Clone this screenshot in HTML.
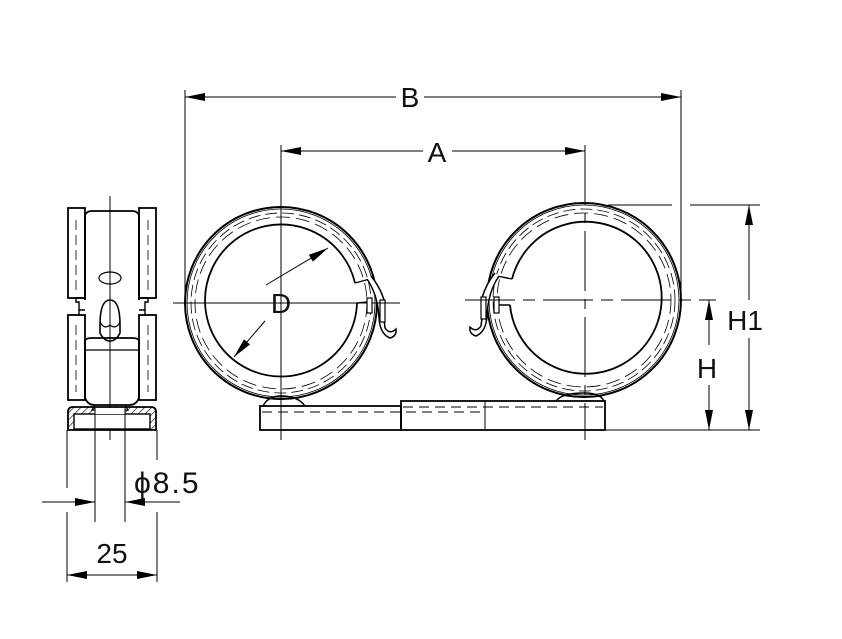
<!DOCTYPE html>
<html><head><meta charset="utf-8"><style>
html,body{margin:0;padding:0;background:#fff}
svg{display:block}
text{font-family:"Liberation Sans",sans-serif;fill:#111}
</style></head><body>
<svg width="842" height="639" viewBox="0 0 842 639" xmlns="http://www.w3.org/2000/svg">
<defs>
<marker id="ar" viewBox="0 0 20 8" refX="20" refY="4" markerWidth="20" markerHeight="8" markerUnits="userSpaceOnUse" orient="auto-start-reverse"><path d="M0,0 L20,4 L0,8 z" fill="#000"/></marker>
<pattern id="hatch" width="5" height="5" patternUnits="userSpaceOnUse" patternTransform="rotate(45)"><line x1="0" y1="0" x2="0" y2="5" stroke="#000" stroke-width="1.2"/></pattern>
</defs>
<g stroke="#000" fill="none">
<line x1="185" y1="90" x2="185" y2="305" stroke-width="1"/>
<line x1="681" y1="90" x2="681" y2="300" stroke-width="1"/>
<line x1="185" y1="97" x2="396" y2="97" marker-start="url(#ar)" stroke-width="1"/>
<line x1="424" y1="97" x2="681" y2="97" marker-end="url(#ar)" stroke-width="1"/>
<line x1="281" y1="145" x2="281" y2="440" stroke-width="1"/>
<line x1="585" y1="145" x2="585" y2="440" stroke-width="1" stroke-dasharray="60,8,10,8"/>
<line x1="281" y1="151" x2="423" y2="151" marker-start="url(#ar)" stroke-width="1"/>
<line x1="452" y1="151" x2="585" y2="151" marker-end="url(#ar)" stroke-width="1"/>
<line x1="608" y1="205" x2="672" y2="205" stroke-width="1"/>
<line x1="690" y1="205" x2="760" y2="205" stroke-width="1"/>
<line x1="605" y1="430" x2="760" y2="430" stroke-width="1"/>
<line x1="749" y1="205" x2="749" y2="300" marker-start="url(#ar)" stroke-width="1"/>
<line x1="749" y1="338" x2="749" y2="430" marker-end="url(#ar)" stroke-width="1"/>
<line x1="709" y1="300" x2="709" y2="345" marker-start="url(#ar)" stroke-width="1"/>
<line x1="709" y1="385" x2="709" y2="430" marker-end="url(#ar)" stroke-width="1"/>
<line x1="173" y1="303" x2="400" y2="303" stroke-width="1"/>
<line x1="465" y1="300" x2="716" y2="300" stroke-width="1" stroke-dasharray="50,8,12,8"/>
<!-- left ring -->
<circle cx="281" cy="303" r="96" stroke-width="2"/>
<circle cx="281" cy="303" r="94" stroke-width="0.8"/>
<circle cx="281" cy="303" r="90" stroke-width="0.8" stroke-dasharray="12,5"/>
<circle cx="281" cy="303" r="86" stroke-width="0.8" stroke-dasharray="14,6"/>
<path d="M357,303 A76,76 0 1 1 355,283" stroke-width="1.8"/>
<path d="M355,283 L370,279 M357,303 L368,302" stroke-width="1.4"/>
<path d="M367,279 Q378,295 379,318 Q380,334 390,338 Q397,336 396,329 Q390,335 385,328 Q383,315 384,300 Q380,287 371,276" stroke-width="1.5" fill="#fff"/>
<rect x="367" y="298" width="5" height="15" stroke-width="1.2" fill="#fff"/>
<rect x="380" y="300" width="5" height="22" stroke-width="1.2" fill="#fff"/>
<line x1="372" y1="303" x2="400" y2="303" stroke-width="1"/>
<line x1="266" y1="285" x2="328" y2="248" marker-end="url(#ar)" stroke-width="1"/>
<line x1="265" y1="321" x2="234" y2="357" marker-end="url(#ar)" stroke-width="1"/>
<!-- right ring -->
<circle cx="584" cy="300" r="97" stroke-width="2"/>
<circle cx="584" cy="300" r="95" stroke-width="0.8"/>
<circle cx="584" cy="300" r="91" stroke-width="0.8" stroke-dasharray="12,5"/>
<circle cx="584" cy="300" r="87" stroke-width="0.8" stroke-dasharray="14,6"/>
<path d="M512,279 A76,76 0 1 1 510,305" stroke-width="1.8"/>
<path d="M512,279 L497,276 M510,305 L498,305" stroke-width="1.4"/>
<path d="M499,276 Q488,292 487,316 Q486,332 476,336 Q469,334 470,327 Q476,333 481,326 Q483,313 482,298 Q486,284 495,273" stroke-width="1.5" fill="#fff"/>
<rect x="481" y="297" width="5" height="22" stroke-width="1.2" fill="#fff"/>
<rect x="494" y="297" width="5" height="16" stroke-width="1.2" fill="#fff"/>
<line x1="465" y1="300" x2="499" y2="300" stroke-width="1"/>
<!-- feet -->
<path d="M263,406 Q268,396 281,396 Q298,396 305,406" stroke-width="1.4"/>
<path d="M556,401 Q562,393 584,393 Q600,393 604,401" stroke-width="1.4"/>
<rect x="260" y="406" width="141" height="24" stroke-width="1.8"/>
<rect x="401" y="401" width="204" height="29" stroke-width="1.8"/>
<line x1="485" y1="401" x2="485" y2="430" stroke-width="1"/>
<line x1="262" y1="412" x2="485" y2="412" stroke-width="0.9" stroke-dasharray="10,6"/>
<line x1="403" y1="407" x2="603" y2="407" stroke-width="0.9" stroke-dasharray="10,6"/>
<!-- side view -->
<line x1="110" y1="196" x2="110" y2="440" stroke-width="1"/>
<rect x="68" y="208" width="17" height="90" stroke-width="1.8"/>
<rect x="139" y="208" width="17" height="90" stroke-width="1.8"/>
<rect x="68" y="315" width="17" height="85" stroke-width="1.8"/>
<rect x="139" y="315" width="17" height="85" stroke-width="1.8"/>
<path d="M85,215 Q87,211 92,211 L132,211 Q137,211 139,215 L139,300 M85,215 L85,300" stroke-width="1.8"/>
<path d="M85,298 L76,298 L76,302 L79,302 L79,310 L85,310 M139,298 L148,298 L148,302 L145,302 L145,310 L139,310" stroke-width="1.4"/>
<path d="M79,310 L79,316 M145,310 L145,316" stroke-width="1.4"/>
<line x1="76" y1="220" x2="76" y2="290" stroke-width="0.8" stroke-dasharray="10,5"/>
<line x1="148" y1="220" x2="148" y2="290" stroke-width="0.8" stroke-dasharray="10,5"/>
<line x1="76" y1="325" x2="76" y2="392" stroke-width="0.8" stroke-dasharray="10,5"/>
<line x1="148" y1="325" x2="148" y2="392" stroke-width="0.8" stroke-dasharray="10,5"/>
<ellipse cx="110" cy="278" rx="11" ry="6" stroke-width="1.2"/>
<path d="M100,325 Q100,300 110,300 Q120,300 120,325 L120,333 Q116,341 110,341 Q104,341 100,333 z" stroke-width="1.6"/>
<path d="M100,322 Q104,330 110,325 Q116,330 120,322" stroke-width="1.2"/>
<path d="M85,340 L85,398 Q88,405 94,405 L130,405 Q136,405 139,398 L139,340 Q137,338 132,338 L92,338 Q87,338 85,340 z" stroke-width="1.8"/>
<line x1="85" y1="350" x2="139" y2="350" stroke-width="1.2"/>
<path d="M95,405 L92,410 L128,410 L125,405" stroke-width="1.2"/>
<path d="M68,430 L68,412 Q68,407 73,407 L151,407 Q156,407 156,412 L156,430 z" fill="url(#hatch)" stroke-width="1.8"/>
<rect x="74" y="414" width="76" height="15" fill="#fff" stroke-width="1.4"/>
<rect x="95" y="408" width="30" height="6" fill="#fff" stroke="none"/>
<line x1="95" y1="408" x2="95" y2="522" stroke-width="1"/>
<line x1="125" y1="408" x2="125" y2="522" stroke-width="1"/>
<line x1="67" y1="430" x2="67" y2="488" stroke-width="1"/>
<line x1="67" y1="512" x2="67" y2="582" stroke-width="1"/>
<line x1="157" y1="430" x2="157" y2="460" stroke-width="1"/>
<line x1="157" y1="512" x2="157" y2="582" stroke-width="1"/>
<line x1="42" y1="502" x2="95" y2="502" marker-end="url(#ar)" stroke-width="1"/>
<line x1="180" y1="502" x2="125" y2="502" marker-end="url(#ar)" stroke-width="1"/>
<line x1="67" y1="575" x2="157" y2="575" marker-start="url(#ar)" marker-end="url(#ar)" stroke-width="1"/>
</g>
<g font-size="28">
<text x="410" y="107" text-anchor="middle">B</text>
<text x="437" y="162" text-anchor="middle">A</text>
<text x="281" y="313" text-anchor="middle">D</text>
<text x="745" y="330" text-anchor="middle">H1</text>
<text x="707" y="378" text-anchor="middle">H</text>
<text x="112" y="563" text-anchor="middle">25</text>
<text x="134" y="493" font-size="30" letter-spacing="2">ϕ8.5</text>
</g>
</svg>
</body></html>
